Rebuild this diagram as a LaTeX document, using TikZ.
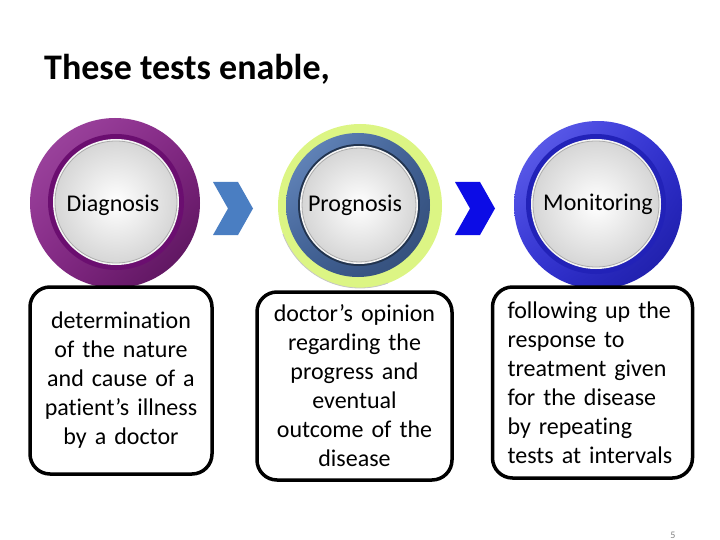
\documentclass[tikz,border=0pt]{standalone}
\usepackage{fontspec}
\setmainfont{Carlito}[Ligatures=NoCommon]
\usetikzlibrary{positioning,shadings}
\definecolor{plumL}{HTML}{A24BA4}
\definecolor{plumM}{HTML}{852886}
\definecolor{plumD}{HTML}{531055}
\definecolor{plumR}{HTML}{6B0E70}
\definecolor{limeR}{HTML}{DCF584}
\definecolor{steelL}{HTML}{6C8FC4}
\definecolor{steelD}{HTML}{3E5E92}
\definecolor{navyR}{HTML}{22344F}
\definecolor{royL}{HTML}{6767F0}
\definecolor{royM}{HTML}{3030D2}
\definecolor{royD}{HTML}{1A1AA0}
\definecolor{royR}{HTML}{2222B8}
\definecolor{chevA}{HTML}{4A7EC2}
\definecolor{chevB}{HTML}{0C0CE6}
\tikzset{
  title/.style ={font=\fontsize{36}{43}\selectfont\bfseries,anchor=base west,
                 inner sep=0pt},
  lbl/.style   ={font=\fontsize{24}{29}\selectfont,inner sep=0pt},
  note/.style  ={draw,line width=3.5pt,rounded corners=20pt,
                 font=\fontsize{24}{29}\selectfont,text width=170pt,inner sep=0pt},
  disc/.style  ={inner color=white,outer color=gray!32},
  rim/.style   ={draw=gray!65,line width=0.8pt},
}
\newcommand{\chevron}[2]{\fill[#2,shift={(#1)}] (-20,-26.5) -- (5,-26.5) -- (20,0)
  -- (5,26.5) -- (-20,26.5) -- (-5,0) -- cycle;}

\begin{document}
\begin{tikzpicture}[x=1pt,y=-1pt]
\useasboundingbox (0,0) rectangle (720,540);
\clip (0,0) rectangle (720,540);
\node[title] (TT) at (44,80) {These tests enable,};
\coordinate (C1) at (115,203);
\coordinate (C2) at (360,206);
\coordinate (C3) at (598,205);
\shade[upper left=plumL,upper right=plumM,lower left=plumM,lower right=plumD] (C1) circle (85pt);
\fill[plumR] (116,202) circle (68pt);
\fill[white!92!gray] (116,202) circle (63pt);
\shade[disc] (116,202) circle (61pt); \draw[rim] (116,202) circle (61pt);
\fill[limeR] (C2) circle (82pt);
\draw[gray!45,line width=0.8pt] (C2) ++(200:82pt) arc (200:290:82pt);
\shade[upper left=steelL,upper right=steelD,lower left=steelD,lower right=steelD!80!black] (358,205) circle (72pt);
\fill[navyR] (359,205) circle (61pt);
\fill[white!92!gray] (359,205) circle (59pt);
\shade[disc] (359,205) circle (57pt); \draw[rim] (359,205) circle (57pt);
\shade[upper left=royL,upper right=royM,lower left=royM,lower right=royD] (C3) circle (84pt);
\fill[royR] (596,204) circle (70pt);
\fill[white!92!gray] (596,204) circle (65pt);
\shade[disc] (596,204) circle (63pt); \draw[rim] (596,204) circle (63pt);
\node[lbl] (DG) at (113,205) {Diagnosis};
\node[lbl] (PG) at (355,205) {Prognosis};
\node[lbl] (MN) at (598,204) {Monitoring};
\coordinate (A1) at (233,208.5);
\coordinate (A2) at (475,208.5);
\chevron{A1}{chevA}
\chevron{A2}{chevB}
\node[note,align=center,minimum width=182pt,minimum height=187pt] (DGt) at (121,380.5)
  {determination\\of the nature\\and cause of a\\patient’s illness\\by a doctor};
\node[note,align=center,minimum width=195pt,minimum height=188pt] (PGt) at (354.5,386)
  {doctor’s opinion\\regarding the\\progress and\\eventual\\outcome of the\\disease};
\node[note,align=left,minimum width=200pt,minimum height=191pt] (MNt) at (592.5,382.5)
  {following up the\\response to\\treatment given\\for the disease\\by repeating\\tests at intervals};
\node[font=\fontsize{10}{12}\selectfont,text=gray,inner sep=0pt,anchor=south] (PN) at (673,539) {5};
\end{tikzpicture}
\end{document}
